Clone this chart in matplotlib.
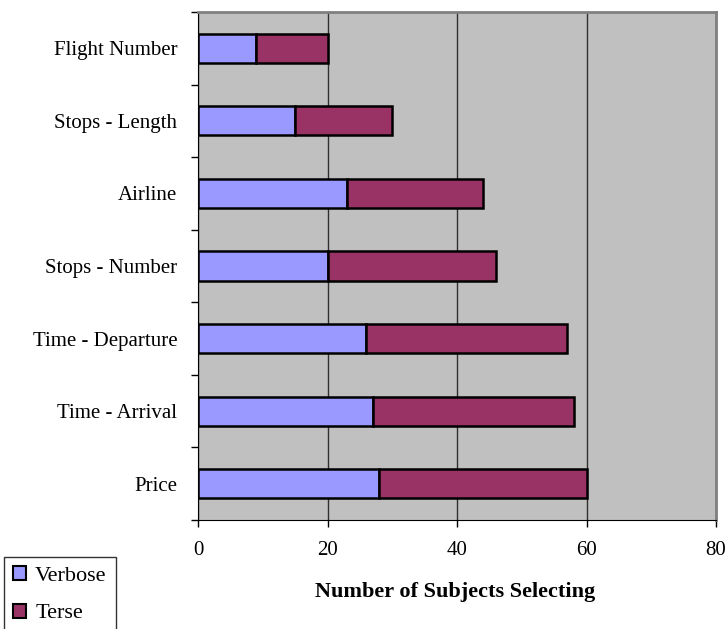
import matplotlib
matplotlib.use("Agg")
import matplotlib.pyplot as plt
from matplotlib.ticker import FixedLocator

plt.rcParams['font.family'] = ['Liberation Serif', 'DejaVu Serif']

categories = ['Price', 'Time - Arrival', 'Time - Departure', 'Stops - Number',
              'Airline', 'Stops - Length', 'Flight Number']
verbose = [28, 27, 26, 20, 23, 15, 9]
terse = [32, 31, 31, 26, 21, 15, 11]
x_ticks = [0, 20, 40, 60, 80]


def draw_chart():
    fig = plt.figure(figsize=(7.28, 6.29), dpi=100)
    ax = fig.add_axes([198 / 728, 1 - 520 / 629, 518 / 728, 508 / 629])
    ax.set_facecolor('#C0C0C0')

    y = range(len(categories))
    ax.barh(y, verbose, height=0.4, color='#9999FF', edgecolor='black',
            linewidth=1.8, label='Verbose', zorder=3)
    ax.barh(y, terse, left=verbose, height=0.4, color='#993366',
            edgecolor='black', linewidth=1.8, label='Terse', zorder=3)

    ax.set_xlim(0, 80)
    ax.set_ylim(-0.5, len(categories) - 0.5)
    ax.set_xticks(x_ticks)
    ax.set_yticks(list(y))
    ax.set_yticklabels(categories, fontsize=15)
    ax.yaxis.set_minor_locator(FixedLocator([i - 0.5 for i in range(len(categories) + 1)]))
    ax.tick_params(axis='y', which='major', length=0, pad=15)
    ax.tick_params(axis='y', which='minor', length=5, width=1, direction='out')
    ax.tick_params(axis='x', length=5, width=1, direction='out', pad=10, labelsize=15)

    ax.grid(axis='x', color='#303030', linewidth=1, zorder=1)
    ax.spines['left'].set_color('black')
    ax.spines['bottom'].set_color('black')
    for side in ['top', 'right']:
        ax.spines[side].set_color('#808080')
        ax.spines[side].set_linewidth(2)

    fig.text(455 / 728, 1 - 592 / 629, 'Number of Subjects Selecting',
             ha='center', va='center', fontsize=16, fontweight='bold')

    # legend box runs off the bottom edge like in the original
    leg = fig.legend(loc='upper left', bbox_to_anchor=(4 / 728, 1 - 557 / 629),
                     fontsize=16, frameon=True, fancybox=False, edgecolor='black',
                     handlelength=0.6, handleheight=0.6, handletextpad=0.4,
                     labelspacing=0.8, borderpad=0.4, borderaxespad=0)
    leg.get_frame().set_linewidth(1)
    for patch in leg.get_patches():
        patch.set_linewidth(1.5)

    fig.savefig('out.png', dpi=100)


def main():
    draw_chart()


if __name__ == "__main__":
    main()
